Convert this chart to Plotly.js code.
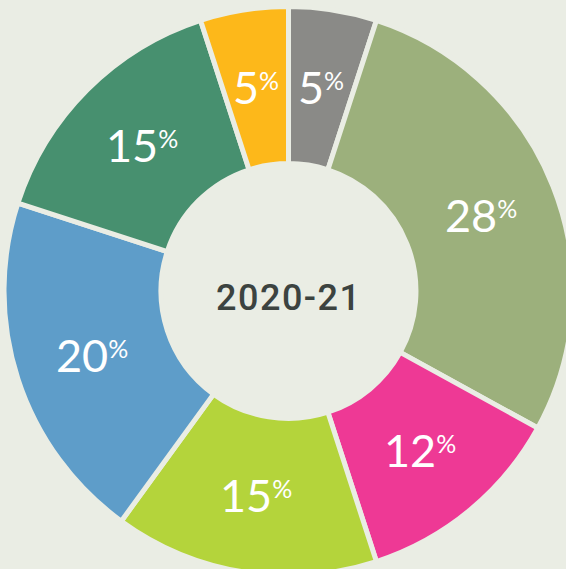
<!DOCTYPE html>
<html>
<head>
<meta charset="utf-8">
<script src="https://cdn.plot.ly/plotly-3.0.1.min.js"></script>
<style>
  html, body { margin: 0; padding: 0; background: #eaede4; overflow: hidden; }
  #chart { width: 600px; height: 600px; }
</style>
</head>
<body>
<div id="chart"></div>
<script>
const categories = ["Grey", "Sage", "Pink", "Lime", "Blue", "Green", "Yellow"];
const shares = [5, 28, 12, 15, 20, 15, 5];
const colors = ["#8a8a87", "#9cb07c", "#ee3995", "#b4d43b", "#5e9dc9", "#47906f", "#fdb81a"];
const centerLabel = "2020-21";

const bg = "#eaede4";
const W = 600, H = 600;
const cx = 288.5, cy = 291, R = 284.5;   // pie placement (px)
const labelR = 207;                      // label ring radius (px)

const trace = {
  type: "pie",
  labels: categories,
  values: shares,
  sort: false,
  direction: "clockwise",
  rotation: 0,
  hole: 0.448,
  marker: { colors: colors, line: { color: bg, width: 5 } },
  textinfo: "none",
  hoverinfo: "none",
  showlegend: false,
  domain: { x: [(cx - R) / W, (cx + R) / W], y: [(H - cy - R) / H, (H - cy + R) / H] }
};

// value labels placed at each slice's mid-angle (derived from the data)
const total = shares.reduce((a, b) => a + b, 0);
let cum = 0;
const labelAnns = shares.map((v) => {
  const mid = (cum + v / 2) / total * 2 * Math.PI;
  cum += v;
  const px = cx + labelR * Math.sin(mid);
  const py = cy - labelR * Math.cos(mid);
  return {
    text: v + '<sup><span style="font-size:25px;baseline-shift:-5px">%</span></sup>',
    xref: "paper", yref: "paper",
    x: px / W, y: (H - py) / H,
    xanchor: "center", yanchor: "middle",
    showarrow: false,
    font: { family: "Lato, sans-serif", size: 45, color: "#ffffff" }
  };
});

const layout = {
  width: W,
  height: H,
  margin: { l: 0, r: 0, t: 0, b: 0, pad: 0 },
  paper_bgcolor: bg,
  plot_bgcolor: bg,
  showlegend: false,
  annotations: labelAnns.concat([{
    text: '<span style="letter-spacing:1.5px">' + centerLabel + '</span>',
    xref: "paper", yref: "paper",
    x: cx / W, y: (H - 298) / H,
    xanchor: "center", yanchor: "middle",
    showarrow: false,
    font: { family: "Roboto, sans-serif", size: 36, color: "#3c4340", weight: 500 }
  }])
};

Plotly.newPlot("chart", [trace], layout, { staticPlot: true, displayModeBar: false });
</script>
</body>
</html>
